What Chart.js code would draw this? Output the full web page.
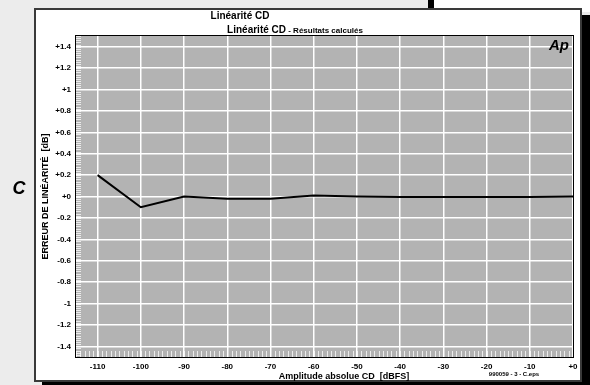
<!DOCTYPE html>
<html>
<head>
<meta charset="utf-8">
<script src="https://cdn.jsdelivr.net/npm/chart.js@4.4.0/dist/chart.umd.min.js"></script>
<style>
  html, body { margin: 0; padding: 0; background: #ececec; }
  #wrap { width: 590px; height: 385px; }
</style>
</head>
<body>
<div id="wrap"><canvas id="chart" width="590" height="385"></canvas></div>
<script>
// values
const amplitudes = [-110, -100, -90, -80, -70, -60, -50, -40, -30, -20, -10, 0];
const linearityError = [0.2, -0.1, 0.0, -0.02, -0.02, 0.01, 0.0, -0.005, -0.005, -0.005, -0.005, 0.0];

const xTickValues = [-110, -100, -90, -80, -70, -60, -50, -40, -30, -20, -10, 0];
const xTickLabels = ["-110", "-100", "-90", "-80", "-70", "-60", "-50", "-40", "-30", "-20", "-10", "+0"];
const yTickValues = [1.4, 1.2, 1, 0.8, 0.6, 0.4, 0.2, 0, -0.2, -0.4, -0.6, -0.8, -1, -1.2, -1.4];
const yTickLabels = ["+1.4", "+1.2", "+1", "+0.8", "+0.6", "+0.4", "+0.2", "+0",
  "-0.2", "-0.4", "-0.6", "-0.8", "-1", "-1.2", "-1.4"];

const FONT = "'Liberation Sans', Arial, sans-serif";

// page frame, panel and plot background
const framePlugin = {
  id: "frame",
  beforeDraw(chart) {
    const ctx = chart.ctx;
    const a = chart.chartArea;
    ctx.save();
    ctx.fillStyle = "#ececec";
    ctx.fillRect(0, 0, 590, 385);
    ctx.fillStyle = "#fff";
    ctx.fillRect(434, 0, 156, 12);
    ctx.fillStyle = "#000";
    ctx.fillRect(428, 0, 6, 9);
    // shadow
    ctx.fillRect(42, 15, 548, 370);
    // panel
    ctx.fillStyle = "#fff";
    ctx.fillRect(35, 9, 546, 372);
    ctx.strokeStyle = "#3a3a3a";
    ctx.lineWidth = 2;
    ctx.strokeRect(35, 9, 546, 372);
    // plot area
    ctx.fillStyle = "#b3b3b3";
    ctx.fillRect(a.left, a.top, a.right - a.left, a.bottom - a.top);
    ctx.restore();
  },
  beforeDatasetsDraw(chart) {
    const ctx = chart.ctx;
    const a = chart.chartArea;
    const xs = chart.scales.x;
    const ys = chart.scales.y;
    ctx.save();
    ctx.strokeStyle = "rgba(255,255,255,0.75)";
    ctx.lineWidth = 1;
    // minor ticks along the bottom, every 1 dB
    for (let v = Math.ceil(xs.min); v <= xs.max; v++) {
      const px = Math.round(xs.getPixelForValue(v)) + 0.5;
      ctx.beginPath();
      ctx.moveTo(px, a.bottom - 6);
      ctx.lineTo(px, a.bottom);
      ctx.stroke();
    }
    // minor ticks along the left side
    for (let i = -75; i <= 75; i++) {
      const py = Math.round(ys.getPixelForValue(i * 0.02)) + 0.5;
      ctx.beginPath();
      ctx.moveTo(a.left, py);
      ctx.lineTo(a.left + 5, py);
      ctx.stroke();
    }
    ctx.strokeStyle = "#000";
    ctx.lineWidth = 1;
    ctx.strokeRect(a.left - 0.5, a.top - 0.5, a.right - a.left + 1, a.bottom - a.top + 1);
    ctx.restore();
  },
  afterDraw(chart) {
    const ctx = chart.ctx;
    ctx.save();
    ctx.fillStyle = "#000";
    ctx.textBaseline = "alphabetic";
    ctx.textAlign = "center";
    ctx.font = "bold 10px " + FONT;
    ctx.fillText("Linéarité CD", 240, 19);

    // subtitle, two sizes
    const part1 = "Linéarité CD";
    const part2 = " - Résultats calculés";
    ctx.font = "bold 10px " + FONT;
    const w1 = ctx.measureText(part1).width;
    ctx.font = "bold 8px " + FONT;
    const w2 = ctx.measureText(part2).width;
    const x0 = 295 - (w1 + w2) / 2;
    ctx.textAlign = "left";
    ctx.font = "bold 10px " + FONT;
    ctx.fillText(part1, x0, 33);
    ctx.font = "bold 8px " + FONT;
    ctx.fillText(part2, x0 + w1, 33);

    // x axis title, placed right of centre as in the original
    ctx.textAlign = "center";
    ctx.font = "bold 9px " + FONT;
    ctx.fillText("Amplitude absolue CD  [dBFS]", 344, 379);

    ctx.textAlign = "right";
    ctx.font = "italic bold 15px " + FONT;
    ctx.fillText("Ap", 569, 50);

    ctx.textAlign = "center";
    ctx.font = "bold 6px " + FONT;
    ctx.fillText("990059 - 3 - C.eps", 514, 376);

    ctx.font = "italic bold 18px " + FONT;
    ctx.fillText("C", 19, 194);
    ctx.restore();
  }
};

new Chart(document.getElementById("chart"), {
  type: "line",
  data: {
    datasets: [{
      data: amplitudes.map((x, i) => ({ x: x, y: linearityError[i] })),
      borderColor: "#000",
      borderWidth: 2,
      pointRadius: 0,
      tension: 0
    }]
  },
  options: {
    responsive: false,
    animation: false,
    devicePixelRatio: 1,
    layout: { padding: { left: 38, top: 36, right: 17, bottom: 0 } },
    plugins: { legend: { display: false }, tooltip: { enabled: false } },
    scales: {
      x: {
        type: "linear",
        min: -115,
        max: 0,
        afterBuildTicks: (s) => { s.ticks = xTickValues.map((v) => ({ value: v })); },
        afterFit: (s) => { s.height = 28; },
        ticks: {
          callback: (v, i) => xTickLabels[i],
          font: { family: FONT, weight: "bold", size: 8 },
          color: "#000",
          padding: 5,
          maxRotation: 0,
          autoSkip: false
        },
        grid: { color: "#fff", lineWidth: 1.5, drawTicks: false },
        border: { display: false },
        title: { display: false }
      },
      y: {
        min: -1.5,
        max: 1.5,
        afterBuildTicks: (s) => { s.ticks = yTickValues.map((v) => ({ value: v })); },
        afterFit: (s) => { s.width = 38; },
        ticks: {
          callback: (v, i) => yTickLabels[i],
          font: { family: FONT, weight: "bold", size: 8 },
          color: "#000",
          padding: 5,
          autoSkip: false
        },
        grid: { color: "#fff", lineWidth: 1.5, drawTicks: false },
        border: { display: false },
        title: {
          display: true,
          text: "ERREUR DE LINÉARITÉ  [dB]",
          font: { family: FONT, weight: "bold", size: 9 },
          color: "#000",
          padding: { top: 2, bottom: 0 }
        }
      }
    }
  },
  plugins: [framePlugin]
});
</script>
</body>
</html>
